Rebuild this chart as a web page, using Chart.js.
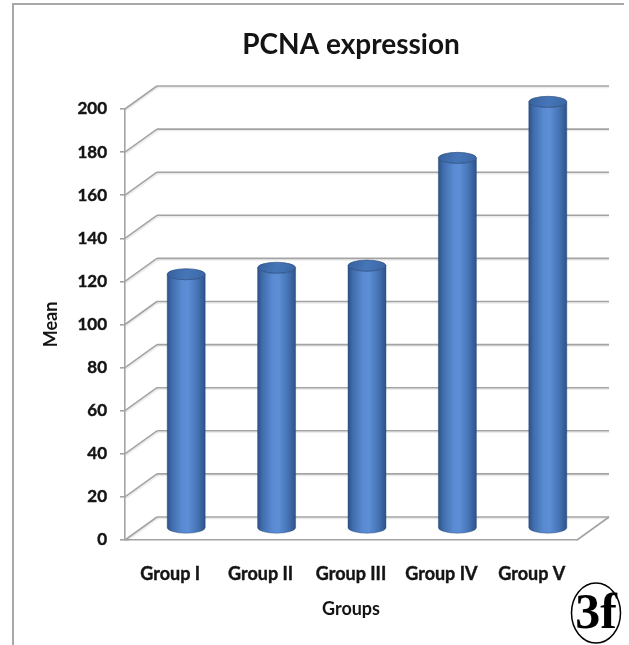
<!DOCTYPE html>
<html>
<head>
<meta charset="utf-8">
<title>PCNA expression</title>
<style>
  html, body { margin: 0; padding: 0; background: #ffffff; }
  #wrap { width: 629px; height: 645px; position: relative; }
  canvas { display: block; }
</style>
<script src="https://cdn.jsdelivr.net/npm/chart.js@4/dist/chart.umd.min.js"></script>
</head>
<body>
<div id="wrap"><canvas id="chart" width="629" height="645"></canvas></div>
<script>
// ---- data ----
const categories = ['Group I', 'Group II', 'Group III', 'Group IV', 'Group V'];
const meanValues = [118, 121, 122, 172, 198];
const yTickValues = [0, 20, 40, 60, 80, 100, 120, 140, 160, 180, 200];

// ---- styling ----
const FONT = 'Lato, "Open Sans", "Liberation Sans", sans-serif';
const TEXT_COLOR = '#141414';
const GRID_COLOR = '#a3a3a3';
const DEPTH_X = 32;   // horizontal shift of the back wall
const DEPTH_Y = -23;  // vertical shift of the back wall
const CAP_RY = 5.5;   // half-height of the cylinder end ellipses

// white page with a light frame on the left and top
const framePlugin = {
  id: 'frame',
  beforeDraw(chart) {
    const ctx = chart.ctx;
    ctx.save();
    ctx.fillStyle = '#ffffff';
    ctx.fillRect(0, 0, chart.width, chart.height);
    ctx.strokeStyle = '#a8a8a8';
    ctx.lineWidth = 2;
    ctx.beginPath();
    ctx.moveTo(13, chart.height);
    ctx.lineTo(13, 4);
    ctx.lineTo(chart.width - 5, 4);
    ctx.stroke();
    ctx.restore();
  }
};

// side wall, back wall and floor of the 3-D box
const wallPlugin = {
  id: 'walls',
  beforeDatasetsDraw(chart) {
    const ctx = chart.ctx;
    const ys = chart.scales.y;
    const area = chart.chartArea;
    ctx.save();
    ctx.lineCap = 'butt';
    const line = (x1, y1, x2, y2) => {
      ctx.beginPath();
      ctx.moveTo(x1, y1);
      ctx.lineTo(x2, y2);
      ctx.stroke();
    };
    yTickValues.forEach(v => {
      const y = ys.getPixelForValue(v);
      // soft shadow under each grid line
      ctx.strokeStyle = 'rgba(0,0,0,0.08)';
      ctx.lineWidth = 1.5;
      line(area.left + 1, y + 1.5, area.left + DEPTH_X + 1, y + DEPTH_Y + 1.5);
      line(area.left + DEPTH_X, y + DEPTH_Y + 1.5, area.right + DEPTH_X, y + DEPTH_Y + 1.5);
      ctx.strokeStyle = GRID_COLOR;
      ctx.lineWidth = 1.6;
      line(area.left, y, area.left + DEPTH_X, y + DEPTH_Y);
      line(area.left + DEPTH_X, y + DEPTH_Y, area.right + DEPTH_X, y + DEPTH_Y);
    });
    // right edge of the floor
    const y0 = ys.getPixelForValue(0);
    ctx.strokeStyle = GRID_COLOR;
    line(area.right, y0, area.right + DEPTH_X, y0 + DEPTH_Y);
    ctx.restore();
  }
};

// cylinders drawn on top of the (transparent) bar elements
const cylinderPlugin = {
  id: 'cylinders',
  afterDatasetsDraw(chart) {
    const ctx = chart.ctx;
    const meta = chart.getDatasetMeta(0);
    ctx.save();
    meta.data.forEach(el => {
      const p = el.getProps(['x', 'y', 'base', 'width'], true);
      const cx = p.x + DEPTH_X / 2;
      const top = p.y + DEPTH_Y / 2;
      const bottom = p.base + DEPTH_Y / 2;
      const rx = p.width / 2;
      const left = cx - rx, right = cx + rx;

      // body
      const g = ctx.createLinearGradient(left, 0, right, 0);
      g.addColorStop(0.00, '#2b5188');
      g.addColorStop(0.12, '#3f6cab');
      g.addColorStop(0.40, '#5a8bd2');
      g.addColorStop(0.55, '#5d8fd6');
      g.addColorStop(0.80, '#4573b4');
      g.addColorStop(1.00, '#2d5389');
      ctx.beginPath();
      ctx.moveTo(left, top);
      ctx.lineTo(left, bottom);
      ctx.ellipse(cx, bottom, rx, CAP_RY, 0, Math.PI, 0, true);
      ctx.lineTo(right, top);
      ctx.ellipse(cx, top, rx, CAP_RY, 0, 0, Math.PI, false);
      ctx.closePath();
      ctx.fillStyle = g;
      ctx.fill();
      ctx.strokeStyle = 'rgba(38,70,120,0.55)';
      ctx.lineWidth = 0.8;
      ctx.stroke();

      // top cap
      const t = ctx.createLinearGradient(left, top - CAP_RY, right, top + CAP_RY);
      t.addColorStop(0, '#36609c');
      t.addColorStop(0.5, '#4676b8');
      t.addColorStop(1, '#3b66a3');
      ctx.beginPath();
      ctx.ellipse(cx, top, rx, CAP_RY, 0, 0, Math.PI * 2);
      ctx.fillStyle = t;
      ctx.fill();
      ctx.strokeStyle = 'rgba(40,72,122,0.8)';
      ctx.lineWidth = 0.8;
      ctx.stroke();
    });
    ctx.restore();
  }
};

// panel label in the lower right corner
const panelLabelPlugin = {
  id: 'panelLabel',
  afterDraw(chart) {
    const ctx = chart.ctx;
    ctx.save();
    ctx.beginPath();
    ctx.ellipse(596, 613, 24.5, 30, 0, 0, Math.PI * 2);
    ctx.strokeStyle = '#000000';
    ctx.lineWidth = 1.5;
    ctx.stroke();
    ctx.fillStyle = '#000000';
    ctx.font = 'bold 50px "Liberation Serif", "DejaVu Serif", serif';
    ctx.textAlign = 'center';
    ctx.textBaseline = 'middle';
    ctx.fillText('3f', 596, 615);
    ctx.restore();
  }
};

new Chart(document.getElementById('chart'), {
  type: 'bar',
  data: {
    labels: categories,
    datasets: [{
      label: 'Mean',
      data: meanValues,
      backgroundColor: 'rgba(0,0,0,0)',
      borderWidth: 0,
      barPercentage: 0.42,
      categoryPercentage: 1.0
    }]
  },
  options: {
    responsive: false,
    animation: false,
    devicePixelRatio: 1,
    layout: { padding: { left: 0, right: 52, top: 0, bottom: 0 } },
    plugins: {
      legend: { display: false },
      tooltip: { enabled: false },
      title: {
        display: true,
        text: 'PCNA expression',
        fullSize: false,
        color: TEXT_COLOR,
        font: { family: FONT, size: 28, weight: 'bold', lineHeight: 1.2 },
        padding: { top: 28, bottom: 47.4 }
      }
    },
    scales: {
      x: {
        grid: { display: false, drawTicks: false },
        border: { display: true, color: GRID_COLOR, width: 1.6 },
        ticks: {
          color: TEXT_COLOR,
          font: { family: FONT, size: 18, weight: 'bold' },
          padding: 23,
          maxRotation: 0,
          textStrokeColor: TEXT_COLOR,
          textStrokeWidth: 0.4
        },
        title: {
          display: true,
          text: 'Groups',
          color: TEXT_COLOR,
          font: { family: FONT, size: 18, weight: 'bold', lineHeight: 1.2 },
          padding: { top: 0, bottom: 25 }
        },
        afterFit(scale) { scale.height = 105; }
      },
      y: {
        min: 0,
        max: 200,
        afterBuildTicks(scale) { scale.ticks = yTickValues.map(v => ({ value: v })); },
        grid: { drawOnChartArea: false, drawTicks: true, tickLength: 5, color: GRID_COLOR, lineWidth: 1.6 },
        border: { display: true, color: GRID_COLOR, width: 1.6 },
        ticks: {
          color: TEXT_COLOR,
          font: { family: FONT, size: 17, weight: 'bold' },
          padding: 13,
          textStrokeColor: TEXT_COLOR,
          textStrokeWidth: 0.4
        },
        title: {
          display: true,
          text: 'Mean',
          color: TEXT_COLOR,
          font: { family: FONT, size: 18, weight: 'bold', lineHeight: 1.2 },
          padding: { top: 40, bottom: 0 }
        },
        afterFit(scale) { scale.width = 125; }
      }
    }
  },
  plugins: [framePlugin, wallPlugin, cylinderPlugin, panelLabelPlugin]
});
</script>
</body>
</html>
